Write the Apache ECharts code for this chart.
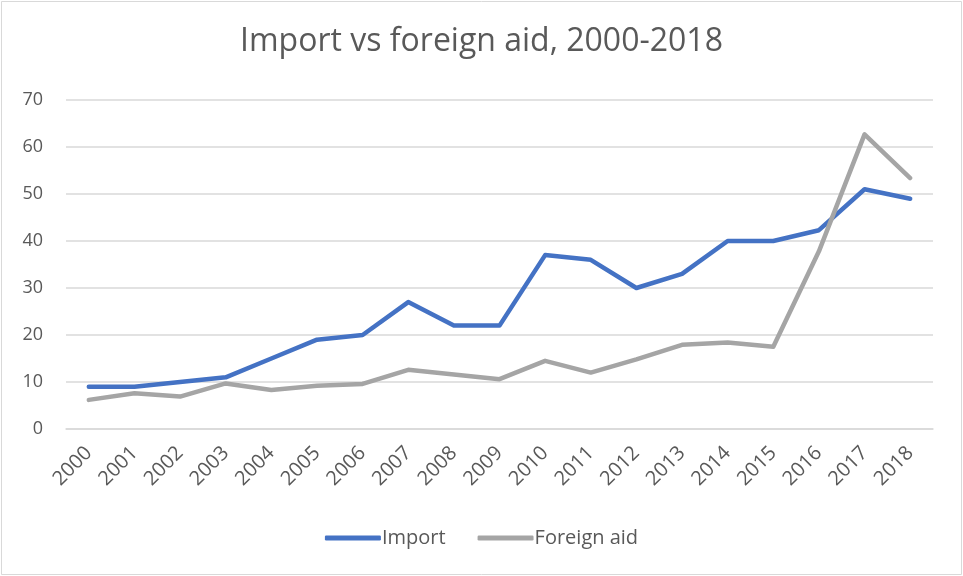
<!DOCTYPE html>
<html><head><meta charset="utf-8">
<script src="https://cdn.jsdelivr.net/npm/echarts@6/dist/echarts.min.js"></script>
<style>html,body{margin:0;padding:0;background:#fff}#c{width:963px;height:576px}</style>
</head><body><div id="c"></div>
<script>
const years = ['2000','2001','2002','2003','2004','2005','2006','2007','2008','2009','2010','2011','2012','2013','2014','2015','2016','2017','2018'];
const importVals = [9, 9, 10, 11, 15, 19, 20, 27, 22, 22, 37, 36, 30, 33, 40, 40, 42.3, 51, 49];
const aidVals = [6.2, 7.6, 6.9, 9.7, 8.3, 9.2, 9.6, 12.6, 11.6, 10.6, 14.5, 12.0, 14.8, 17.9, 18.4, 17.5, 37.8, 62.7, 53.4];
const yTicks = [0, 10, 20, 30, 40, 50, 60, 70];

const font = '"Open Sans", "Noto Sans", sans-serif';
const chart = echarts.init(document.getElementById('c'), null, {renderer: 'canvas'});
chart.setOption({
  animation: false,
  backgroundColor: '#fff',
  title: {
    text: 'Import vs foreign aid, 2000-2018',
    left: 'center', top: 21,
    textStyle: {fontFamily: font, fontSize: 32, fontWeight: 'normal', color: '#595959'}
  },
  legend: {
    bottom: 23, left: 'center',
    itemWidth: 56, itemHeight: 5, itemGap: 32,
    icon: 'roundRect',
    textStyle: {fontFamily: font, fontSize: 20, color: '#595959', padding: [0,0,0,-4]},
    data: ['Import', 'Foreign aid']
  },
  grid: {left: 66, right: 30, top: 100, bottom: 147, containLabel: false},
  xAxis: {
    type: 'category', data: years, boundaryGap: true,
    axisLine: {show: true, lineStyle: {color: '#D9D9D9', width: 1.5}},
    axisTick: {show: false},
    axisLabel: {rotate: 45, fontFamily: font, fontSize: 20, color: '#595959', margin: 21, interval: 0}
  },
  yAxis: {
    type: 'value', min: yTicks[0], max: yTicks[yTicks.length-1], interval: 10,
    axisLine: {show: false}, axisTick: {show: false},
    axisLabel: {fontFamily: font, fontSize: 18, color: '#595959', margin: 23},
    splitLine: {lineStyle: {color: '#D9D9D9', width: 1.5}}
  },
  series: [
    {name: 'Import', type: 'line', data: importVals, symbol: 'none',
     lineStyle: {color: '#4472C4', width: 4.5, cap: 'round', join: 'round'}, itemStyle: {color: '#4472C4'}},
    {name: 'Foreign aid', type: 'line', data: aidVals, symbol: 'none',
     lineStyle: {color: '#A5A5A5', width: 4.5, cap: 'round', join: 'round'}, itemStyle: {color: '#A5A5A5'}}
  ],
  graphic: [{type: 'rect', shape: {x: 1.5, y: 1.5, width: 960, height: 573}, style: {fill: 'none', stroke: '#D9D9D9', lineWidth: 1}, silent: true}]
});
</script></body></html>
